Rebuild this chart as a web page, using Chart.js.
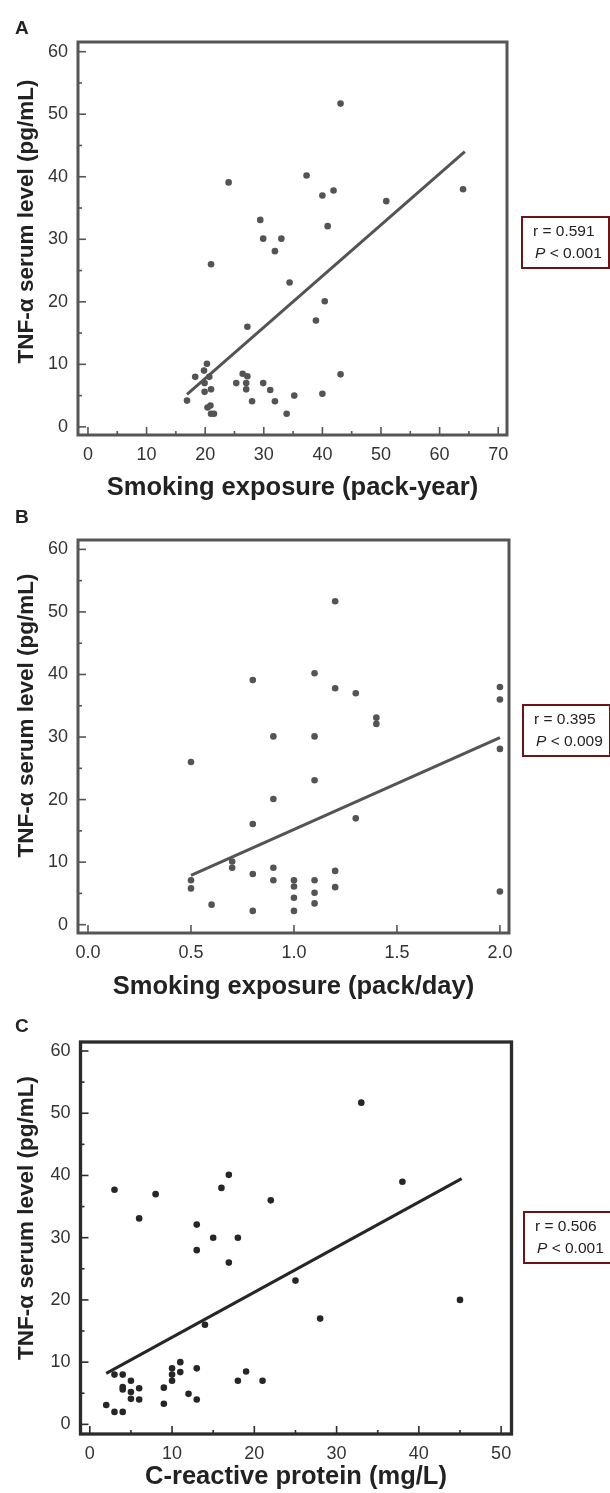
<!DOCTYPE html>
<html lang="en">
<head>
  <meta charset="UTF-8">
  <title>TNF-α serum level vs smoking exposure and CRP</title>
  <script src="https://cdn.jsdelivr.net/npm/chart.js"></script>
  <style>
    body { margin: 0; background: #fff; }
    #page { position: relative; width: 610px; height: 1493px; overflow: hidden; }
    .panel { position: absolute; left: 0; }
  </style>
</head>
<body>
<div id="page">
  <div class="panel" style="top:0px"><canvas id="chartA" width="610" height="510"></canvas></div>
  <div class="panel" style="top:490px"><canvas id="chartB" width="610" height="520"></canvas></div>
  <div class="panel" style="top:1000px"><canvas id="chartC" width="610" height="493"></canvas></div>
</div>

<script>
  // Panel A: pack-year vs TNF-alpha
  const packYearX = [43.1, 24.0, 37.3, 40.0, 41.9, 64.0, 50.9, 29.4, 40.9, 29.9, 33.0, 31.9, 21.0, 34.4,
    40.4, 38.9, 27.2, 20.3, 19.8, 18.3, 20.7, 19.9, 21.0, 19.9, 16.9, 20.4, 20.9, 21.0, 21.5, 25.3,
    26.4, 27.2, 27.0, 27.0, 28.0, 29.9, 31.1, 31.9, 33.9, 35.2, 40.0, 43.1];
  const packYearTnf = [51.7, 39.1, 40.2, 37.0, 37.8, 38.0, 36.1, 33.1, 32.1, 30.1, 30.1, 28.1, 26.0, 23.1,
    20.1, 17.0, 16.0, 10.1, 9.0, 8.0, 8.0, 7.0, 6.0, 5.6, 4.2, 3.1, 3.4, 2.1, 2.1, 7.0,
    8.5, 8.1, 7.0, 6.0, 4.1, 7.0, 5.9, 4.1, 2.1, 5.0, 5.3, 8.4];
  const packYearFitX = [16.9, 64.3];
  const packYearFitY = [5.2, 44.0];

  // Panel B: pack/day vs TNF-alpha
  const packDayX = [1.2, 0.8, 1.1, 1.2, 1.3, 2.0, 2.0, 1.4, 1.4, 0.9, 1.1, 2.0, 0.5, 1.1,
    0.9, 1.3, 0.8, 0.7, 0.7, 0.9, 0.8, 1.2, 0.5, 0.5, 0.9, 1.0, 1.0, 1.1, 1.2, 2.0,
    1.0, 1.1, 0.6, 1.1, 0.8, 1.0];
  const packDayTnf = [51.7, 39.1, 40.2, 37.8, 37.0, 38.0, 36.0, 33.1, 32.1, 30.1, 30.1, 28.1, 26.0, 23.1,
    20.1, 17.0, 16.1, 10.1, 9.1, 9.1, 8.1, 8.6, 7.1, 5.8, 7.1, 7.1, 6.1, 7.1, 6.0, 5.3,
    4.3, 5.1, 3.2, 3.4, 2.2, 2.2];
  const packDayFitX = [0.5, 2.0];
  const packDayFitY = [7.9, 29.9];

  // Panel C: CRP vs TNF-alpha
  const crpX = [33.0, 38.0, 16.9, 16.0, 3.0, 8.0, 22.0, 6.0, 13.0, 15.0, 18.0, 13.0, 16.9, 25.0,
    45.0, 28.0, 14.0, 11.0, 10.0, 13.0, 10.0, 11.0, 19.0, 3.0, 4.0, 5.0, 10.0, 18.0, 21.0, 4.0,
    4.0, 6.0, 9.0, 5.0, 12.0, 5.0, 6.0, 13.0, 2.0, 9.0, 3.0, 4.0];
  const crpTnf = [51.7, 39.0, 40.1, 38.0, 37.7, 37.0, 36.0, 33.1, 32.1, 30.0, 30.0, 28.0, 26.0, 23.1,
    20.0, 17.0, 16.0, 10.0, 9.0, 9.0, 8.0, 8.4, 8.5, 8.0, 8.0, 7.0, 7.0, 7.0, 7.0, 6.0,
    5.6, 5.8, 5.9, 5.2, 4.9, 4.1, 4.0, 4.0, 3.1, 3.3, 2.0, 2.0];
  const crpFitX = [2.0, 45.2];
  const crpFitY = [8.2, 39.5];

  const yTitle = 'TNF-α serum level (pg/mL)';
  const xTitles = ['Smoking exposure (pack-year)', 'Smoking exposure (pack/day)', 'C-reactive protein (mg/L)'];
  const panelLetters = ['A', 'B', 'C'];
  const rValues = ['0.591', '0.395', '0.506'];
  const pValues = ['0.001', '0.009', '0.001'];

  Chart.defaults.font.family = '"Liberation Sans", Arial, sans-serif';

  function toPoints(xs, ys) {
    return xs.map((x, i) => ({ x: x, y: ys[i] }));
  }

  function isMajor(v, major) {
    const q = v / major;
    return Math.abs(q - Math.round(q)) < 1e-6;
  }

  // frame, inward ticks, titles, letter and stats box
  const decorPlugin = {
    id: 'decor',
    afterDraw(chart, args, o) {
      const ctx = chart.ctx;
      const a = chart.chartArea;
      ctx.save();
      ctx.strokeStyle = o.color;
      ctx.lineCap = 'butt';

      // ticks
      ctx.lineWidth = 1.6;
      const xs = chart.scales.x, ys = chart.scales.y;
      xs.ticks.forEach(t => {
        const px = xs.getPixelForValue(t.value);
        const len = isMajor(t.value, o.xMajor) ? 8 : 4;
        ctx.beginPath(); ctx.moveTo(px, a.bottom); ctx.lineTo(px, a.bottom - len); ctx.stroke();
      });
      ys.ticks.forEach(t => {
        const py = ys.getPixelForValue(t.value);
        const len = isMajor(t.value, 10) ? 8 : 4;
        ctx.beginPath(); ctx.moveTo(a.left, py); ctx.lineTo(a.left + len, py); ctx.stroke();
      });

      // frame
      ctx.lineWidth = o.frameWidth;
      ctx.strokeRect(a.left, a.top, a.right - a.left, a.bottom - a.top);

      ctx.fillStyle = '#222';
      // panel letter
      ctx.font = 'bold 19px "Liberation Sans", Arial, sans-serif';
      ctx.textAlign = 'left'; ctx.textBaseline = 'alphabetic';
      ctx.fillText(o.letter, 15, o.letterY);

      // x title
      ctx.font = 'bold 25.5px "Liberation Sans", Arial, sans-serif';
      ctx.textAlign = 'center'; ctx.textBaseline = 'middle';
      ctx.fillText(o.xTitle, (a.left + a.right) / 2, a.bottom + o.xTitleDy);

      // y title
      ctx.save();
      ctx.translate(27, (a.top + a.bottom) / 2 + o.yTitleDy);
      ctx.rotate(-Math.PI / 2);
      ctx.font = 'bold 22.5px "Liberation Sans", Arial, sans-serif';
      ctx.fillText(yTitle, 0, 0);
      ctx.restore();

      // stats box
      const bx = o.boxX, by = o.boxY;
      ctx.fillStyle = '#fff';
      ctx.fillRect(bx, by, 88, 51);
      ctx.strokeStyle = '#6b1518';
      ctx.lineWidth = 2;
      ctx.strokeRect(bx, by, 87, 51);
      ctx.fillStyle = '#222';
      ctx.textAlign = 'left'; ctx.textBaseline = 'alphabetic';
      ctx.font = '15.5px "Liberation Sans", Arial, sans-serif';
      ctx.fillText('r = ' + o.r, bx + 11, by + 19);
      ctx.font = 'italic 15.5px "Liberation Sans", Arial, sans-serif';
      ctx.fillText('P', bx + 13, by + 41);
      const pw = ctx.measureText('P').width;
      ctx.font = '15.5px "Liberation Sans", Arial, sans-serif';
      ctx.fillText(' < ' + o.p, bx + 13 + pw, by + 41);
      ctx.restore();
    }
  };

  function makePanel(cfg) {
    const canvas = document.getElementById(cfg.id);
    new Chart(canvas.getContext('2d'), {
      type: 'scatter',
      data: {
        datasets: [
          {
            data: cfg.points,
            backgroundColor: cfg.color,
            borderColor: cfg.color,
            pointRadius: 3.3,
            pointHoverRadius: 3.3,
            borderWidth: 0
          },
          {
            type: 'line',
            data: cfg.fit,
            borderColor: cfg.color,
            borderWidth: 3,
            pointRadius: 0,
            fill: false
          }
        ]
      },
      options: {
        responsive: false,
        animation: false,
        events: [],
        layout: {
          autoPadding: false,
          padding: { top: cfg.area.t, right: 610 - cfg.area.r, left: 0, bottom: 0 }
        },
        plugins: {
          legend: { display: false },
          tooltip: { enabled: false },
          decor: cfg.decor
        },
        scales: {
          x: {
            type: 'linear',
            min: cfg.xMin, max: cfg.xMax,
            grid: { display: false, drawTicks: false },
            border: { display: false },
            ticks: {
              stepSize: cfg.xStep,
              includeBounds: false,
              autoSkip: false,
              maxRotation: 0,
              padding: 9,
              color: '#333',
              font: { size: 18 },
              callback: v => isMajor(v, cfg.decor.xMajor) ? v.toFixed(cfg.xDec) : ''
            },
            afterFit: s => { s.height = canvas.height - cfg.area.b; }
          },
          y: {
            type: 'linear',
            min: cfg.yMin, max: cfg.yMax,
            grid: { display: false, drawTicks: false },
            border: { display: false },
            ticks: {
              stepSize: 5,
              includeBounds: false,
              autoSkip: false,
              padding: 10,
              color: '#333',
              font: { size: 18 },
              callback: v => isMajor(v, 10) ? String(v) : ''
            },
            afterFit: s => { s.width = cfg.area.l; }
          }
        }
      },
      plugins: [decorPlugin]
    });
  }

  makePanel({
    id: 'chartA', color: '#545454',
    points: toPoints(packYearX, packYearTnf), fit: toPoints(packYearFitX, packYearFitY),
    area: { l: 78, r: 507, t: 42, b: 435 },
    xMin: -1.7, xMax: 71.5, xStep: 5, xDec: 0, yMin: -1.3, yMax: 61.55,
    decor: { color: '#555', frameWidth: 3, xMajor: 10, letter: panelLetters[0], letterY: 34,
      xTitle: xTitles[0], xTitleDy: 53, yTitleDy: -17, boxX: 522, boxY: 217, r: rValues[0], p: pValues[0] }
  });

  makePanel({
    id: 'chartB', color: '#545454',
    points: toPoints(packDayX, packDayTnf), fit: toPoints(packDayFitX, packDayFitY),
    area: { l: 78, r: 509, t: 50, b: 443 },
    xMin: -0.0485, xMax: 2.044, xStep: 0.5, xDec: 1, yMin: -1.33, yMax: 61.5,
    decor: { color: '#555', frameWidth: 3, xMajor: 0.5, letter: panelLetters[1], letterY: 33,
      xTitle: xTitles[1], xTitleDy: 54, yTitleDy: -21, boxX: 523, boxY: 215, r: rValues[1], p: pValues[1] }
  });

  makePanel({
    id: 'chartC', color: '#262626',
    points: toPoints(crpX, crpTnf), fit: toPoints(crpFitX, crpFitY),
    area: { l: 80.5, r: 511.5, t: 42, b: 434 },
    xMin: -1.13, xMax: 51.26, xStep: 5, xDec: 0, yMin: -1.55, yMax: 61.45,
    decor: { color: '#2b2b2b', frameWidth: 3.3, xMajor: 10, letter: panelLetters[2], letterY: 32,
      xTitle: xTitles[2], xTitleDy: 43, yTitleDy: -20, boxX: 524, boxY: 212, r: rValues[2], p: pValues[2] }
  });
</script>
</body>
</html>
